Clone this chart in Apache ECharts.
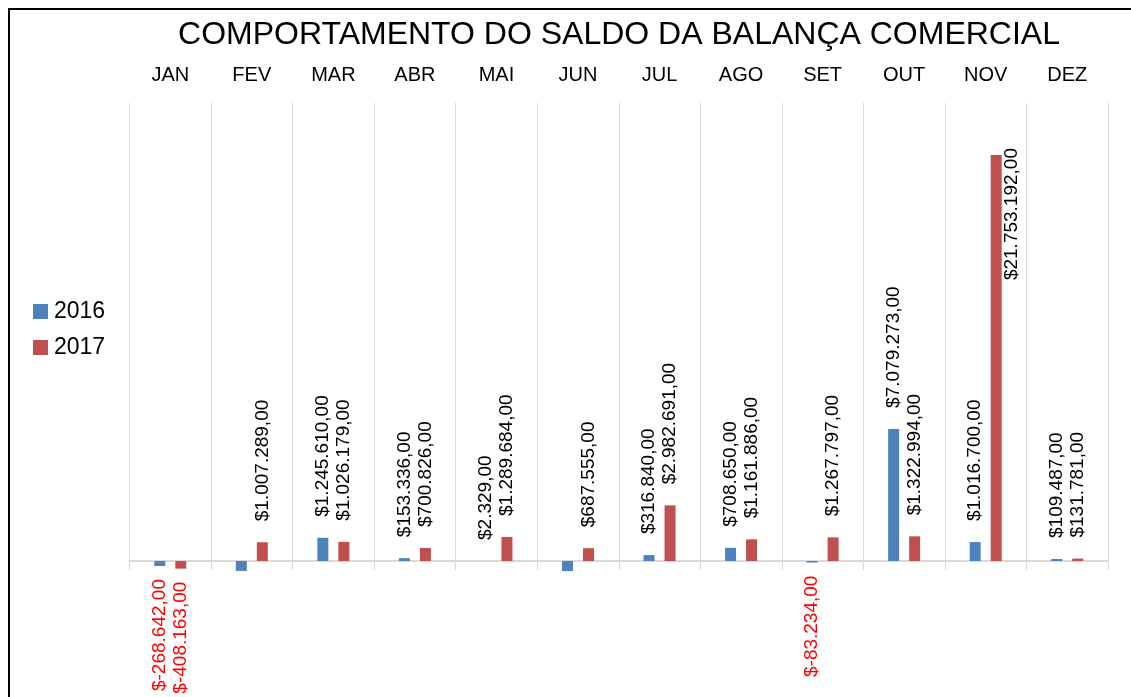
<!DOCTYPE html>
<html>
<head>
<meta charset="utf-8">
<script src="https://cdn.jsdelivr.net/npm/echarts@6/dist/echarts.min.js"></script>
<style>
html,body{margin:0;padding:0;background:#fff;}
#chart{width:1131px;height:697px;}
</style>
</head>
<body>
<div id="chart"></div>
<script>
const titleText = 'COMPORTAMENTO DO SALDO DA BALANÇA COMERCIAL';
const months = ['JAN','FEV','MAR','ABR','MAI','JUN','JUL','AGO','SET','OUT','NOV','DEZ'];
const seriesNames = ['2016','2017'];
const values2016 = [-268642, -530000, 1245610, 153336, 2329, -540000, 316840, 708650, -83234, 7079273, 1016700, 109487];
const values2017 = [-408163, 1007289, 1026179, 700826, 1289684, 687555, 2982691, 1161886, 1267797, 1322994, 21753192, 131781];
// months whose value labels are not shown in the reference
const hiddenLabels2016 = ['FEV','JUN'];
const hiddenLabels2017 = [];
// label drawn beside the bar (too tall to fit above)
const besideLabels2017 = ['NOV'];

const colors = ['#4F81BD', '#C0504D'];
const FONT = 'Liberation Sans, Arial, sans-serif';

function fmt(v){
  const neg = v < 0;
  const s = Math.abs(Math.round(v)).toString().replace(/\B(?=(\d{3})+(?!\d))/g, '.');
  return '$' + (neg ? '-' : '') + s + ',00';
}

function buildData(values, hidden, beside){
  return values.map((v, i) => {
    const m = months[i];
    let label;
    if (hidden.indexOf(m) >= 0) {
      label = {show:false};
    } else if (beside.indexOf(m) >= 0) {
      label = {show:true, position:[21,-7], rotate:90, align:'right', verticalAlign:'middle', color:'#000'};
    } else if (v < 0) {
      label = {show:true, position:'bottom', distance:13, rotate:90, align:'right', verticalAlign:'middle', color:'#FF0000'};
    } else {
      label = {show:true, position:'top', distance:21, rotate:90, align:'left', verticalAlign:'middle', color:'#000'};
    }
    return {value:v, label:label};
  });
}

const chart = echarts.init(document.getElementById('chart'), null, {renderer:'canvas'});
const option = {
  animation:false,
  backgroundColor:'#fff',
  title:{
    text:titleText,
    left:614, top:14, textAlign:'center',
    textStyle:{fontFamily:FONT, fontSize:32, fontWeight:'normal', color:'#000'}
  },
  legend:{
    orient:'vertical', left:33, top:300, padding:0,
    itemWidth:15, itemHeight:15, itemGap:13,
    icon:'rect',
    textStyle:{fontFamily:FONT, fontSize:23, color:'#000', padding:[0,0,0,1]},
    data:seriesNames
  },
  graphic:[{
    type:'rect', silent:true,
    shape:{x:9, y:9, width:1400, height:1000},
    style:{fill:'none', stroke:'#000', lineWidth:2}
  }],
  grid:{left:129.5, right:23, top:103, bottom:7, containLabel:false},
  xAxis:[{
    type:'category', position:'top', data:months,
    axisLine:{show:false, onZero:false},
    axisTick:{show:true, inside:true, length:467, interval:0, lineStyle:{color:'#D9D9D9', width:1}},
    axisLabel:{interval:0, margin:18, fontFamily:FONT, fontSize:20, color:'#000'},
    splitLine:{show:false}
  },{
    type:'category', position:'bottom', data:months,
    axisLine:{show:true, onZero:true, lineStyle:{color:'#D9D9D9', width:2}},
    axisTick:{show:false}, axisLabel:{show:false}, splitLine:{show:false}
  }],
  yAxis:{
    type:'value', min:-6910000, max:24540000,
    axisLine:{show:false}, axisTick:{show:false}, axisLabel:{show:false}, splitLine:{show:false}
  },
  series:[{
    name:seriesNames[0], type:'bar', xAxisIndex:0,
    barWidth:11, barGap:'91%',
    itemStyle:{color:colors[0]},
    label:{fontFamily:FONT, fontSize:19, formatter:p => fmt(p.value)},
    data:buildData(values2016, hiddenLabels2016, [])
  },{
    name:seriesNames[1], type:'bar', xAxisIndex:0,
    barWidth:11, barGap:'91%',
    itemStyle:{color:colors[1]},
    label:{fontFamily:FONT, fontSize:19, formatter:p => fmt(p.value)},
    data:buildData(values2017, hiddenLabels2017, besideLabels2017)
  }]
};
chart.setOption(option);
</script>
</body>
</html>
